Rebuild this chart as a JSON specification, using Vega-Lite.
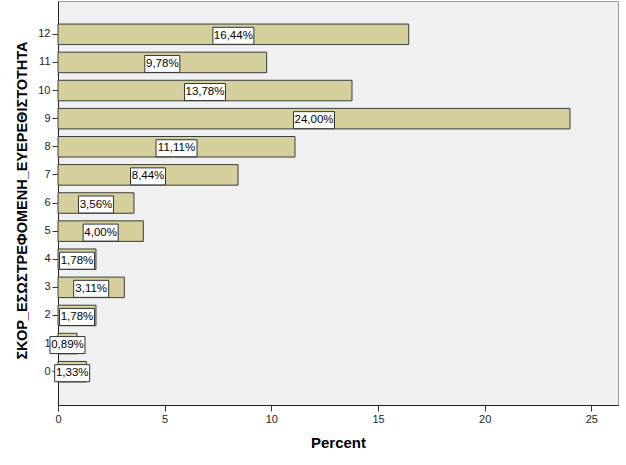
{
  "$schema": "https://vega.github.io/schema/vega-lite/v6.json",
  "width": 560,
  "height": 404,
  "autosize": {"type": "none"},
  "padding": {"left": 58, "top": 1, "right": 8, "bottom": 60},
  "background": "white",
  "config": {
    "font": "Liberation Sans",
    "view": {"fill": "#f0f0f0", "stroke": "#9a9a9a", "strokeWidth": 1}
  },
  "data": {
    "values": [
      {"score": "12", "pct": 16.44, "label": "16,44%"},
      {"score": "11", "pct": 9.78, "label": "9,78%"},
      {"score": "10", "pct": 13.78, "label": "13,78%"},
      {"score": "9", "pct": 24.0, "label": "24,00%"},
      {"score": "8", "pct": 11.11, "label": "11,11%"},
      {"score": "7", "pct": 8.44, "label": "8,44%"},
      {"score": "6", "pct": 3.56, "label": "3,56%"},
      {"score": "5", "pct": 4.0, "label": "4,00%"},
      {"score": "4", "pct": 1.78, "label": "1,78%"},
      {"score": "3", "pct": 3.11, "label": "3,11%"},
      {"score": "2", "pct": 1.78, "label": "1,78%"},
      {"score": "1", "pct": 0.89, "label": "0,89%"},
      {"score": "0", "pct": 1.33, "label": "1,33%"}
    ]
  },
  "transform": [{"calculate": "datum.pct / 2", "as": "mid"}],
  "encoding": {
    "y": {
      "field": "score",
      "type": "ordinal",
      "sort": ["12", "11", "10", "9", "8", "7", "6", "5", "4", "3", "2", "1", "0"],
      "scale": {"paddingInner": 0.27, "paddingOuter": 0.82},
      "axis": {
        "title": "ΣΚΟΡ_ΕΣΩΣΤΡΕΦΟΜΕΝΗ_ΕΥΕΡΕΘΙΣΤΟΤΗΤΑ",
        "titleFont": "Liberation Sans",
        "titleFontSize": 14.5,
        "titleFontWeight": "bold",
        "titleColor": "#000",
        "titleX": -36,
        "titleY": 199,
        "titleAngle": -90,
        "titleAlign": "center",
        "titleBaseline": "middle",
        "labelFontSize": 11,
        "labelColor": "#222",
        "labelPadding": 2,
        "labelAngle": 0,
        "tickSize": 6,
        "tickColor": "#333",
        "domainColor": "#222",
        "grid": false
      }
    }
  },
  "layer": [
    {
      "mark": {"type": "bar", "fill": "#d4cf9b", "stroke": "#3c3c3c", "strokeWidth": 1},
      "encoding": {
        "x": {
          "field": "pct",
          "type": "quantitative",
          "scale": {"domain": [0, 26.25], "nice": false},
          "axis": {
            "title": "Percent",
            "titleFont": "Liberation Sans",
            "titleFontSize": 15,
            "titleFontWeight": "bold",
            "titleColor": "#000",
            "titleY": 37.5,
            "titleBaseline": "middle",
            "values": [0, 5, 10, 15, 20, 25],
            "labelFontSize": 11,
            "labelColor": "#222",
            "labelPadding": 2,
            "labelFlush": false,
            "tickSize": 6,
            "tickColor": "#333",
            "domainColor": "#222",
            "grid": false
          }
        }
      }
    },
    {
      "mark": {"type": "point", "filled": true, "fill": "white", "stroke": "#333", "strokeWidth": 1, "opacity": 1, "yOffset": 1.5},
      "encoding": {
        "x": {"field": "mid", "type": "quantitative"},
        "shape": {
          "condition": {"test": "length(datum.label) > 5", "value": "M-1,-0.415L1,-0.415L1,0.415L-1,0.415Z"},
          "value": "M-1,-0.486L1,-0.486L1,0.486L-1,0.486Z"
        },
        "size": {
          "condition": {"test": "length(datum.label) > 5", "value": 1681},
          "value": 1225
        }
      }
    },
    {
      "mark": {"type": "text", "fontSize": 11.5, "color": "#000", "align": "center", "baseline": "middle", "yOffset": 1.5},
      "encoding": {
        "x": {"field": "mid", "type": "quantitative"},
        "text": {"field": "label"}
      }
    }
  ]
}
